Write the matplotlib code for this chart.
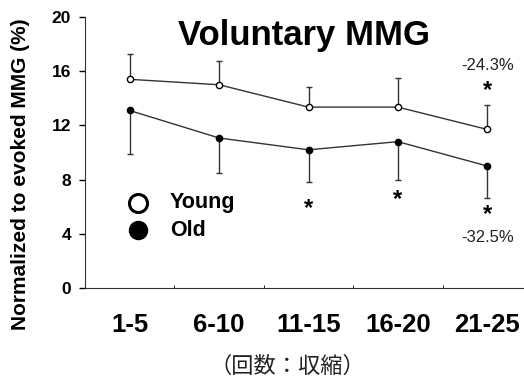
import matplotlib
matplotlib.use("Agg")
import matplotlib.pyplot as plt
import numpy as np

# ── data ────────────────────────────────────────────
categories = ["1-5", "6-10", "11-15", "16-20", "21-25"]
young = [15.4, 15.0, 13.35, 13.35, 11.7]
young_err = [1.9, 1.75, 1.5, 2.15, 1.8]
old = [13.1, 11.07, 10.2, 10.8, 9.0]
old_err = [3.2, 2.57, 2.4, 2.85, 2.36]
young_star_idx = [4]
old_star_idx = [2, 3, 4]
young_star_y = [14.55]
old_star_y = [5.9, 6.5, 5.4]
pct_young = "-24.3%"
pct_old = "-32.5%"

plt.rcParams["font.family"] = ["Liberation Sans", "DejaVu Sans"]

fig = plt.figure(figsize=(5.24, 3.76), dpi=100)
ax = fig.add_axes([85 / 524, 88 / 376, 1 - 85 / 524, 271 / 376])
x = np.arange(len(categories))
line_c = "#333333"

ax.errorbar(x, young, yerr=[np.zeros(5), young_err], fmt="o-", color=line_c,
            mfc="white", mec="black", ms=4.5, lw=1, elinewidth=1, capsize=2.5, capthick=1)
ax.errorbar(x, old, yerr=[old_err, np.zeros(5)], fmt="o-", color=line_c,
            mfc="black", mec="black", ms=4.5, lw=1, elinewidth=1, capsize=2.5, capthick=1)

for i, yv in zip(young_star_idx, young_star_y):
    ax.text(x[i], yv, "*", ha="center", va="center", fontsize=17, fontweight="bold")
for i, yv in zip(old_star_idx, old_star_y):
    ax.text(x[i], yv, "*", ha="center", va="center", fontsize=17, fontweight="bold")

ax.text(x[4], 16.4, pct_young, ha="center", va="center", fontsize=12, color="#222222")
ax.text(x[4], 3.76, pct_old, ha="center", va="center", fontsize=12, color="#222222")

# legend drawn manually
ax.plot([0.09], [6.3], "o", ms=13, mfc="white", mec="black", mew=2.2)
ax.plot([0.09], [4.25], "o", ms=13, mfc="black", mec="black")
ax.text(0.45, 6.3, "Young", va="center", fontsize=15.5, fontweight="bold")
ax.text(0.45, 4.25, "Old", va="center", fontsize=15.5, fontweight="bold")

ax.set_title("Voluntary MMG", fontsize=25, fontweight="bold", y=0.865)

ax.set_xlim(-0.5, 4.41)
ax.set_ylim(0, 20)
ax.set_yticks(range(0, 21, 4))
ax.set_yticklabels([str(v) for v in range(0, 21, 4)], fontsize=12.5, fontweight="bold")
ax.set_xticks(x)
ax.set_xticklabels(categories, fontsize=18.5, fontweight="bold")
ax.tick_params(axis="x", length=0, pad=18)
ax.set_xticks(x[:-1] + 0.5, minor=True)
ax.tick_params(axis="x", which="minor", direction="in", length=2)
ax.tick_params(axis="y", length=4, width=1, pad=6)

ax.spines["top"].set_visible(False)
ax.spines["right"].set_visible(False)
ax.spines["left"].set_color(line_c)
ax.spines["bottom"].set_color(line_c)

ax.set_ylabel("Normalized to evoked MMG (%)", fontsize=15, fontweight="bold")
ax.yaxis.set_label_coords(-0.125, 0.42)
fig.text(287 / 524, 1 - 366 / 376, "（回数：収縮）", ha="center", va="center", fontsize=16,
         family=["Noto Sans CJK JP", "DejaVu Sans"], color="#222222")

plt.savefig("out.png", dpi=100)
